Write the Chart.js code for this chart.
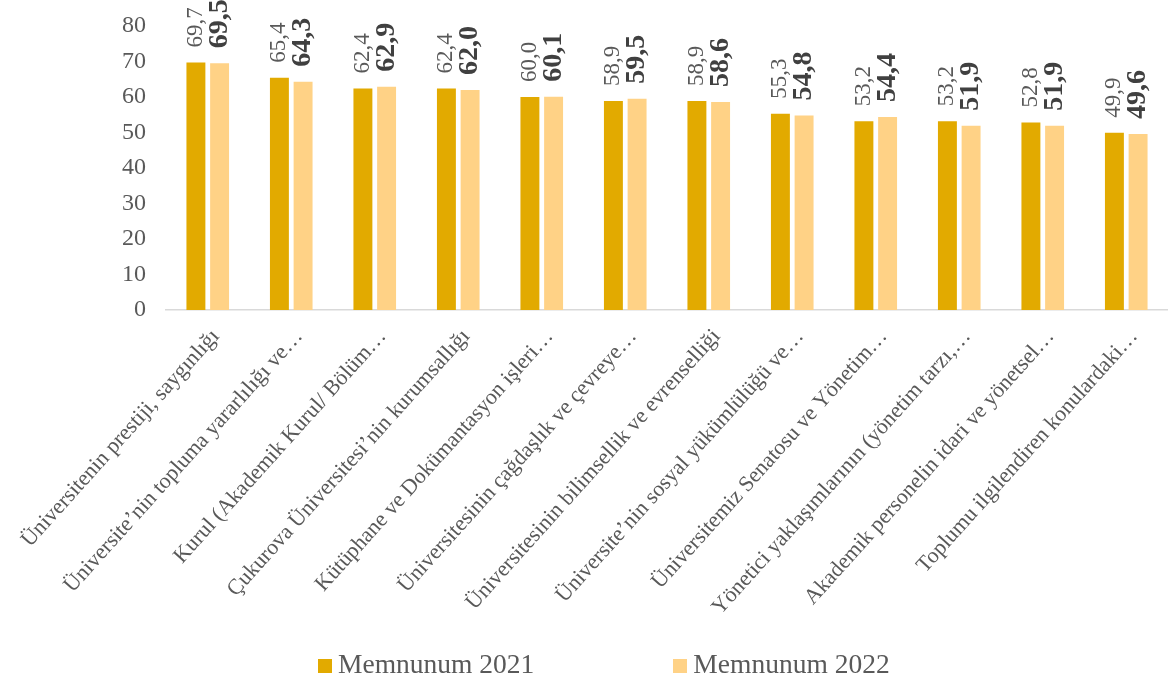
<!DOCTYPE html>
<html>
<head>
<meta charset="utf-8">
<script src="https://cdn.jsdelivr.net/npm/chart.js@4"></script>
<style>
  body { margin: 0; background: #fff; }
  #wrap { position: relative; width: 1168px; height: 674px; }
  #legend { position: absolute; left: 318px; top: 648px; display: flex; align-items: center;
    font-family: "Liberation Serif", "Times New Roman", serif; font-size: 27.5px; color: #595959; }
  .item { display: flex; align-items: center; }
  .item + .item { margin-left: 139px; }
  .box { width: 14px; height: 14px; margin-right: 6px; margin-top: 4px; }
</style>
</head>
<body>
<div id="wrap">
  <canvas id="chart" width="1168" height="674"></canvas>
  <div id="legend"></div>
</div>
<script>
const categories = [
  "Üniversitenin prestiji, saygınlığı",
  "Üniversite’nin topluma yararlılığı ve…",
  "Kurul (Akademik Kurul/ Bölüm…",
  "Çukurova Üniversitesi’nin kurumsallığı",
  "Kütüphane ve Dokümantasyon işleri…",
  "Üniversitesinin çağdaşlık ve çevreye…",
  "Üniversitesinin bilimsellik ve evrenselliği",
  "Üniversite’nin sosyal yükümlülüğü ve…",
  "Üniversitemiz Senatosu ve Yönetim…",
  "Yönetici yaklaşımlarının (yönetim tarzı,…",
  "Akademik personelin idari ve yönetsel…",
  "Toplumu ilgilendiren konulardaki…"
];
const memnun2021 = [69.7, 65.4, 62.4, 62.4, 60.0, 58.9, 58.9, 55.3, 53.2, 53.2, 52.8, 49.9];
const memnun2022 = [69.5, 64.3, 62.9, 62.0, 60.1, 59.5, 58.6, 54.8, 54.4, 51.9, 51.9, 49.6];
const seriesNames = ["Memnunum 2021", "Memnunum 2022"];
const colors = ["#E2AA00", "#FFD286"];

const FONT = '"Liberation Serif", "Times New Roman", serif';
const GREY = "#595959";

// value labels, rotated, above each bar (2022 bold)
const barLabels = {
  id: "barLabels",
  afterDatasetsDraw(chart) {
    const ctx = chart.ctx;
    chart.data.datasets.forEach((ds, di) => {
      const meta = chart.getDatasetMeta(di);
      meta.data.forEach((bar, i) => {
        const txt = ds.data[i].toFixed(1).replace(".", ",");
        ctx.save();
        ctx.translate(bar.x, bar.y - 15);
        ctx.rotate(-Math.PI / 2);
        ctx.font = di === 1 ? `bold 28px ${FONT}` : `23px ${FONT}`;
        ctx.fillStyle = di === 1 ? "#404040" : GREY;
        ctx.textAlign = "left";
        ctx.textBaseline = "middle";
        ctx.fillText(txt, 0, 0);
        ctx.restore();
      });
    });
  }
};

new Chart(document.getElementById("chart"), {
  type: "bar",
  data: {
    labels: categories,
    datasets: [
      { label: seriesNames[0], data: memnun2021, backgroundColor: colors[0] },
      { label: seriesNames[1], data: memnun2022, backgroundColor: colors[1] }
    ]
  },
  options: {
    responsive: false,
    animation: false,
    layout: { padding: { top: 26, left: 0, right: 0, bottom: 0 } },
    datasets: { bar: { categoryPercentage: 0.567, barPercentage: 0.8 } },
    plugins: { legend: { display: false }, tooltip: { enabled: false } },
    scales: {
      x: {
        grid: { display: false },
        border: { display: true, color: "#D9D9D9", width: 1.5 },
        ticks: {
          autoSkip: false, maxRotation: 48, minRotation: 48, padding: 6, labelOffset: 8,
          color: GREY, font: { family: FONT, size: 22 }
        },
        afterFit(scale) {
          scale.height = 364;
          scale.paddingLeft = 0;
          scale.paddingRight = 0;
        }
      },
      y: {
        min: 0, max: 80,
        grid: { display: false, drawTicks: false },
        border: { display: false },
        ticks: { stepSize: 10, padding: 20, color: GREY, font: { family: FONT, size: 24 } },
        afterFit(scale) {
          scale.width = 166;
          scale.paddingTop = 0;
          scale.paddingBottom = 0;
        }
      }
    }
  },
  plugins: [barLabels]
});

// legend
const legend = document.getElementById("legend");
seriesNames.forEach((name, i) => {
  legend.innerHTML += `<div class="item"><div class="box" style="background:${colors[i]}"></div><span>${name}</span></div>`;
});
</script>
</body>
</html>
